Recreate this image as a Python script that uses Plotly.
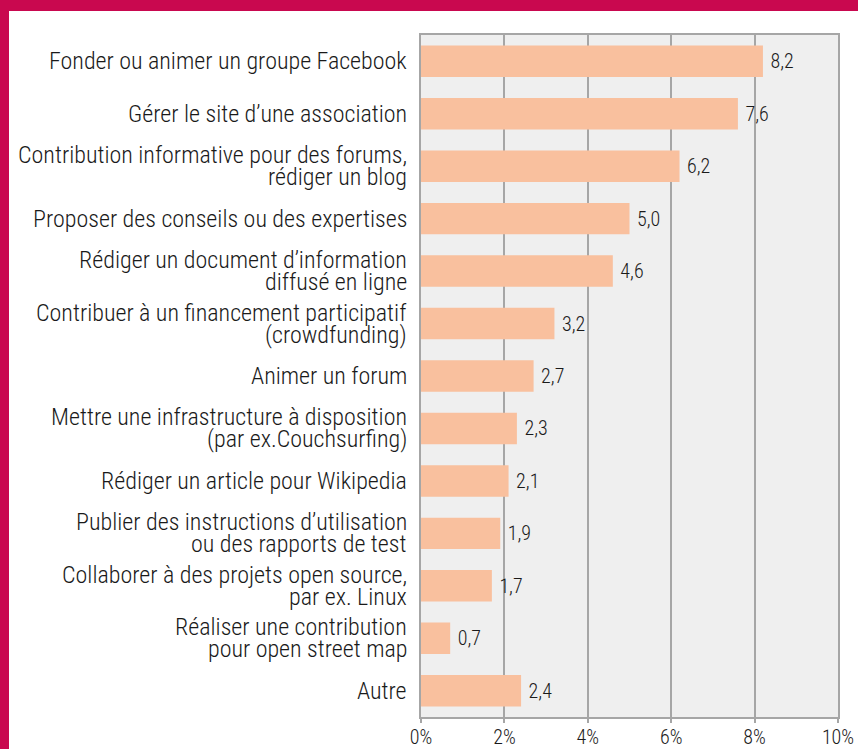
import plotly.graph_objects as go

categories = [
    "Fonder ou animer un groupe Facebook",
    "Gérer le site d’une association",
    "Contribution informative pour des forums,\nrédiger un blog",
    "Proposer des conseils ou des expertises",
    "Rédiger un document d’information\ndiffusé en ligne",
    "Contribuer à un financement participatif\n(crowdfunding)",
    "Animer un forum",
    "Mettre une infrastructure à disposition\n(par ex.Couchsurfing)",
    "Rédiger un article pour Wikipedia",
    "Publier des instructions d’utilisation\nou des rapports de test",
    "Collaborer à des projets open source,\npar ex. Linux",
    "Réaliser une contribution\npour open street map",
    "Autre",
]
values = [8.2, 7.6, 6.2, 5.0, 4.6, 3.2, 2.7, 2.3, 2.1, 1.9, 1.7, 0.7, 2.4]
tick_vals = [0, 2, 4, 6, 8, 10]
tick_text = ["0%", "2%", "4%", "6%", "8%", "10%"]

W, H = 858, 749
L, R, T, B = 421, 20, 35, 32
pw, ph = W - L - R, H - T - B
FONT = "Roboto Condensed, DejaVu Sans Condensed, Liberation Sans, sans-serif"
CRIMSON = "#c9084f"
TEXT = "#1a1a1a"
LABEL_SIZE = 24
LINE_GAP = 22

fig = go.Figure(go.Bar(
    y=categories, x=values, orientation="h",
    marker=dict(color="#f9c09e", line=dict(width=0)),
    width=0.6,
    texttemplate="\u00a0%{x:.1f}", textposition="outside",
    textfont=dict(size=20, color=TEXT, family=FONT, weight=300),
    cliponaxis=False, hoverinfo="skip",
))

# category labels, one annotation per text line (tight line spacing)
annotations = []
for cat in categories:
    lines = cat.split("\n")
    n = len(lines)
    for i, line in enumerate(lines):
        annotations.append(dict(
            xref="paper", x=0, yref="y", y=cat,
            xanchor="right", yanchor="middle",
            xshift=-12, yshift=((n - 1) / 2 - i) * LINE_GAP,
            text=line, showarrow=False,
            font=dict(size=LABEL_SIZE, family=FONT, color=TEXT, weight=300),
        ))

fig.update_layout(
    template="none",
    width=W, height=H,
    margin=dict(l=L, r=R, t=T, b=B, pad=0, autoexpand=False),
    paper_bgcolor="white", plot_bgcolor="#efefef",
    separators=", ",
    showlegend=False,
    font=dict(family=FONT, color=TEXT),
    annotations=annotations,
    shapes=[
        dict(type="rect", xref="paper", yref="paper",
             x0=-L / pw, x1=(9 - L) / pw, y0=-B / ph, y1=(H - B) / ph,
             fillcolor=CRIMSON, line=dict(width=0), layer="above"),
        dict(type="rect", xref="paper", yref="paper",
             x0=-L / pw, x1=(W - L) / pw, y0=(H - 11 - B) / ph, y1=(H - B) / ph,
             fillcolor=CRIMSON, line=dict(width=0), layer="above"),
    ],
)
fig.update_xaxes(
    range=[0, 10], tickvals=tick_vals, ticktext=tick_text,
    showgrid=True, gridcolor="#a6a6a6", gridwidth=2,
    showline=True, linecolor="#a6a6a6", linewidth=2, mirror=True,
    ticks="outside", ticklen=4, tickcolor="#a6a6a6", tickwidth=2,
    tickfont=dict(size=20, family=FONT, color=TEXT, weight=300),
    ticklabelstandoff=-3,
    ticklabeloverflow="allow", automargin=False,
    zeroline=False, fixedrange=True,
)
fig.update_yaxes(
    autorange="reversed",
    showgrid=False,
    showline=True, linecolor="#a6a6a6", linewidth=2, mirror=True,
    ticks="", showticklabels=False, automargin=False,
    zeroline=False, fixedrange=True,
)

fig.write_html("out.html", config={"displayModeBar": False},
               post_script="document.body.style.margin='0px';")
